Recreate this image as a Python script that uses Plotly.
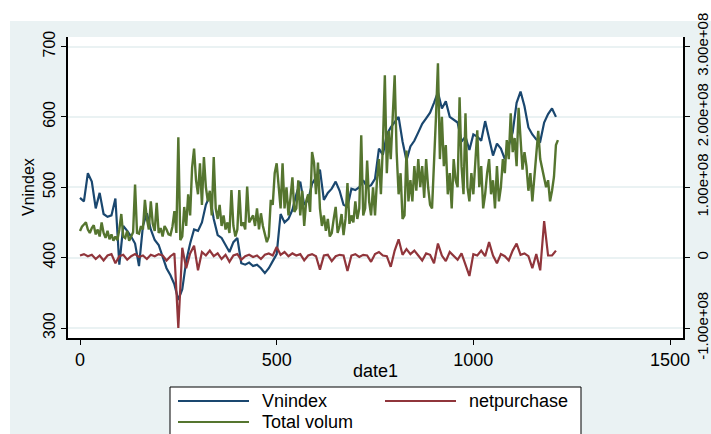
import plotly.graph_objects as go

# ---------------- data ----------------
dates10 = list(range(0, 1220, 10))
dates5 = list(range(0, 1220, 5))

vnindex = [
    485, 480, 520, 508, 470, 492, 462, 458, 460, 484,
    390, 445, 438, 430, 420, 388, 445, 463, 440, 425,
    418, 400, 385, 375, 362, 340, 355, 395, 420, 440,
    438, 450, 475, 488, 455, 432, 428, 418, 408, 422,
    428, 392, 390, 393, 388, 390, 385, 378, 385, 395,
    405, 462, 450, 455, 468, 490, 508, 475, 482, 505,
    514, 525, 482, 492, 498, 508, 495, 475, 472, 498,
    496, 500, 510, 500, 503, 512, 555, 546, 575, 585,
    592, 600, 565, 538, 558, 566, 578, 590, 598, 606,
    620, 635, 612, 622, 600, 596, 592, 565, 572, 553,
    575, 572, 566, 594, 570, 545, 562, 555, 540, 560,
    578, 620, 636, 615, 585, 575, 568, 565, 592, 604,
    612, 600,
]

# net purchase, millions
netpurchase_m = [
    3, 5, 2, 4, -2, 3, -4, 3, 5, -8,
    2, 4, -3, 2, 5, 1, 3, -2, 4, 2,
    5, 3, -4, 2, 6, -100, 14, -15, 6, 17,
    -18, 8, 3, 10, 2, 6, -2, 4, -6, 3,
    5, -3, 2, 4, 1, 3, -2, 4, 6, 3,
    15, 4, 8, 2, 6, 3, 5, -4, 3, 5,
    2, -17, 3, 4, -5, 2, 4, 3, -19, 3,
    5, 1, 4, 3, -6, 5, 8, 3, 2, -13,
    10, 26, 4, 12, 5, 10, 3, -4, 6, 4,
    -8, 20, 3, -5, 8, 2, -3, 6, -10, -26,
    5, 3, 10, 2, 22, 3, -8, 5, 2, -4,
    10, 20, 4, 6, 2, -15, 5, -18, 52, 3,
    3, 10,
]

# total volume, millions
total_volum_m = [
    38, 44, 47, 50, 40, 35, 42, 46, 33, 40,
    30, 50, 35, 28, 38, 26, 33, 24, 30, 25,
    40, 62, 30, 28, 38, 24, 30, 36, 104, 35,
    34, 45, 40, 82, 55, 40, 80, 48, 38, 78,
    35, 42, 30, 45, 40, 33, 32, 44, 66, 35,
    171, 25, 30, 72, 45, 90, 60, 128, 155, 110,
    90, 134, 75, 143, 100, 80, 95, 60, 143, 70,
    55, 75, 45, 60, 40, 50, 35, 96, 45, 30,
    40, 96, 45, 50, 40, 101, 50, 55, 60, 45,
    70, 40, 63, 45, 35, 22, 30, 82, 75, 120,
    134, 95, 70, 134, 70, 100, 60, 85, 114, 65,
    70, 110, 60, 95, 45, 80, 90, 65, 150, 135,
    90, 135, 70, 45, 60, 38, 55, 30, 35, 55,
    72, 35, 45, 62, 32, 55, 106, 48, 60, 50,
    80, 55, 70, 174, 60, 70, 138, 80, 60, 100,
    60, 110, 140, 90, 160, 259, 120, 180, 140, 200,
    259, 150, 90, 120, 55, 60, 152, 80, 110, 80,
    130, 95, 140, 100, 130, 85, 140, 100, 75, 70,
    150, 200, 276, 140, 200, 130, 160, 90, 120, 70,
    140, 110, 100, 228, 130, 90, 205, 100, 80, 120,
    90, 140, 181, 100, 130, 70, 90, 120, 140, 90,
    110, 70, 130, 80, 100, 140, 120, 167, 140, 205,
    150, 170, 130, 213, 160, 125, 150, 130, 95, 120,
    80, 110, 150, 180, 140, 125, 115, 100, 110, 80,
    95, 115, 160, 167,
]

x_ticks = [0, 500, 1000, 1500]
y_ticks = [300, 400, 500, 600, 700]
y2_ticks = [-1e8, 0, 1e8, 2e8, 3e8]
y2_ticktext = ["-1.00e+08", "0", "1.00e+08", "2.00e+08", "3.00e+08"]

names = ["Vnindex", "netpurchase", "Total volum"]
colors = ["#1A476F", "#90353B", "#55752F"]

netpurchase = [v * 1e6 for v in netpurchase_m]
total_volum = [v * 1e6 for v in total_volum_m]

# ---------------- figure ----------------
W, H = 711, 434
L, R, T, B = 68, 28, 37, 96
pw, ph = W - L - R, H - T - B

def px(x):
    return (x - L) / pw

def py(y):
    return (H - B - y) / ph

FONT = "Liberation Sans, Arial, sans-serif"

fig = go.Figure()
fig.add_trace(go.Scatter(x=dates10, y=vnindex, mode="lines", name=names[0],
                         line=dict(color=colors[0], width=2.2), yaxis="y"))
fig.add_trace(go.Scatter(x=dates10, y=netpurchase, mode="lines", name=names[1],
                         line=dict(color=colors[1], width=2.2), yaxis="y2"))
fig.add_trace(go.Scatter(x=dates5, y=total_volum, mode="lines", name=names[2],
                         line=dict(color=colors[2], width=2.4), yaxis="y2"))

ylo, yhi = 285.8, 713.5
fig.update_layout(
    width=W, height=H,
    margin=dict(l=L, r=R, t=T, b=B, pad=0),
    paper_bgcolor="#EAF2F3",
    plot_bgcolor="white",
    showlegend=False,
    font=dict(family=FONT, color="black"),
    xaxis=dict(range=[-30.5, 1533], tickvals=x_ticks, ticks="outside", ticklen=5,
               tickcolor="black", showline=True, linecolor="black", linewidth=1.5,
               showgrid=False, zeroline=False, tickfont=dict(size=18), automargin=False),
    yaxis=dict(range=[ylo, yhi], tickvals=y_ticks, ticks="outside", ticklen=5,
               tickcolor="black", showline=True, linecolor="black", linewidth=1.5,
               showgrid=True, gridcolor="#EAF2F3", gridwidth=1.5, zeroline=False,
               tickangle=-90, tickfont=dict(size=16), automargin=False),
    yaxis2=dict(range=[(ylo - 400) * 1e6, (yhi - 400) * 1e6], overlaying="y", side="right",
                tickvals=y2_ticks, ticktext=y2_ticktext, ticks="outside", ticklen=5,
                tickcolor="black", showline=True, linecolor="black", linewidth=1.5,
                showgrid=False, zeroline=False, tickangle=-90, tickfont=dict(size=15),
                automargin=False),
)

shapes = [
    # white top strip and left strip outside the Stata graph region
    dict(type="rect", xref="paper", yref="paper", x0=px(-5), x1=px(W + 5), y0=py(21), y1=py(-5),
         fillcolor="white", line=dict(width=0), layer="below"),
    dict(type="rect", xref="paper", yref="paper", x0=px(-5), x1=px(10), y0=py(H + 5), y1=py(-5),
         fillcolor="white", line=dict(width=0), layer="below"),
    # legend box
    dict(type="rect", xref="paper", yref="paper", x0=px(170), x1=px(581), y0=py(H + 10), y1=py(387),
         fillcolor="white", line=dict(color="black", width=1)),
]
legend_items = [(178, 249, 260, 401), (385, 456, 467, 401), (178, 249, 260, 422)]
annotations = [
    dict(xref="paper", yref="paper", x=px(375), y=py(371), text="date1", showarrow=False,
         xanchor="center", yanchor="middle", font=dict(size=18, family=FONT, color="black")),
    dict(xref="paper", yref="paper", x=px(28), y=py(187), text="Vnindex", showarrow=False,
         textangle=-90, xanchor="center", yanchor="middle",
         font=dict(size=16, family=FONT, color="black")),
]
for (lx0, lx1, tx, ly), nm, c in zip(legend_items, names, colors):
    shapes.append(dict(type="line", xref="paper", yref="paper", x0=px(lx0), x1=px(lx1),
                       y0=py(ly), y1=py(ly), line=dict(color=c, width=2)))
    annotations.append(dict(xref="paper", yref="paper", x=px(tx), y=py(ly), text=nm,
                            showarrow=False, xanchor="left", yanchor="middle",
                            font=dict(size=18, family=FONT, color="black")))
fig.update_layout(shapes=shapes, annotations=annotations)

fig.write_html("out.html", config={"displayModeBar": False},
               post_script="document.body.style.margin='0';document.body.style.overflow='hidden';")
